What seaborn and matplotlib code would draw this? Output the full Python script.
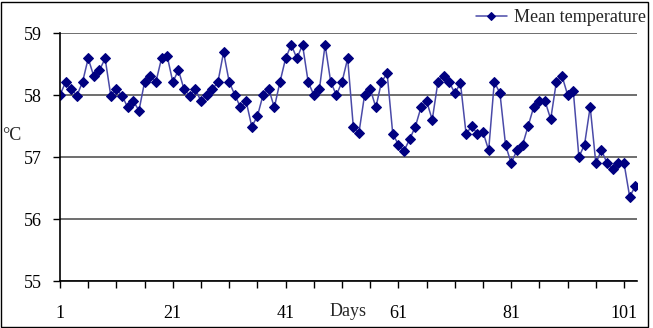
import matplotlib
matplotlib.use("Agg")
import matplotlib.pyplot as plt
import seaborn as sns
import pandas as pd

# Daily mean temperature readings
days = list(range(1, 104))
temps = [
    58.00, 58.21, 58.09, 57.99, 58.21, 58.59, 58.30, 58.40, 58.59, 57.99,
    58.09, 57.99, 57.80, 57.90, 57.75, 58.21, 58.31, 58.21, 58.59, 58.63,
    58.21, 58.40, 58.09, 57.99, 58.09, 57.90, 58.00, 58.09, 58.21, 58.69,
    58.21, 58.00, 57.80, 57.90, 57.49, 57.66, 58.00, 58.10, 57.80, 58.21,
    58.59, 58.81, 58.59, 58.81, 58.21, 58.00, 58.10, 58.81, 58.21, 58.00,
    58.21, 58.59, 57.49, 57.39, 58.00, 58.10, 57.80, 58.21, 58.35, 57.37,
    57.20, 57.10, 57.29, 57.49, 57.80, 57.90, 57.60, 58.21, 58.31, 58.21,
    58.03, 58.19, 57.37, 57.50, 57.37, 57.40, 57.11, 58.21, 58.03, 57.19,
    56.90, 57.11, 57.19, 57.50, 57.81, 57.90, 57.90, 57.61, 58.21, 58.31,
    58.00, 58.07, 57.00, 57.20, 57.81, 56.90, 57.11, 56.90, 56.80, 56.90,
    56.90, 56.36, 56.53,
]
x_tick_labels = ["1", "21", "41", "61", "81", "101"]

df = pd.DataFrame({"Days": days, "Mean temperature": temps})

sns.set_style("white")
plt.rcParams["font.family"] = ["Liberation Serif", "DejaVu Serif"]

fig = plt.figure(figsize=(6.53, 3.28), dpi=100)
ax = fig.add_axes([60 / 653, 1 - 281 / 328, 577 / 653, 248 / 328])

sns.lineplot(data=df, x="Days", y="Mean temperature", ax=ax,
             color="#4a4aa8", linewidth=1.1, marker="D", markersize=5,
             markerfacecolor="#000080", markeredgecolor="#000080",
             label="Mean temperature")

ax.set_xlim(1, 103.3)
ax.set_ylim(55, 59)
ax.set_yticks([55, 56, 57, 58, 59])
ticks = list(range(1, 102, 5))
ax.set_xticks(ticks)
ax.set_xticklabels([str(d) if str(d) in x_tick_labels else "" for d in ticks])
ax.yaxis.grid(True, color="#555555", linewidth=1.2)
ax.set_axisbelow(True)
ax.tick_params(axis="x", direction="out", length=5, width=1, pad=12,
               labelsize=13, colors="black", bottom=True)
ax.tick_params(axis="y", direction="out", length=5, width=1, pad=8,
               labelsize=13, colors="black", left=True)
for side in ["top", "right"]:
    ax.spines[side].set_visible(False)
for side in ["left", "bottom"]:
    ax.spines[side].set_color("black")
    ax.spines[side].set_linewidth(1.2)

ax.set_xlabel("")
ax.set_ylabel("")
fig.text(348 / 653, 1 - 312 / 328, "Days", ha="center", va="center", fontsize=13)
fig.text(12 / 653, 1 - 136 / 328, "°C", ha="center", va="center", fontsize=13)

ax.legend(loc="upper right", bbox_to_anchor=(646 / 653, 1 - 9 / 328),
          bbox_transform=fig.transFigure, frameon=False, fontsize=13,
          handlelength=1.7, handletextpad=0.4, borderaxespad=0,
          borderpad=0, markerscale=0.8)

fig.patches.append(plt.Rectangle((1 / 653, 1 / 328), 647 / 653, 325 / 328,
                                 transform=fig.transFigure, fill=False,
                                 edgecolor="black", linewidth=1))

fig.savefig("out.png", dpi=100)
